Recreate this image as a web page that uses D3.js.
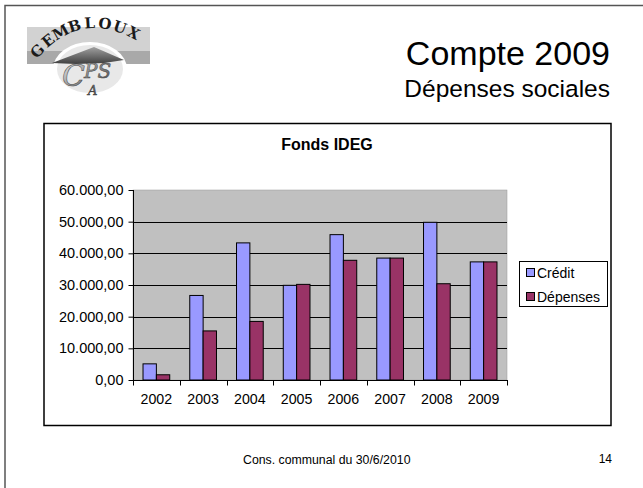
<!DOCTYPE html>
<html>
<head>
<meta charset="utf-8">
<script src="https://cdn.jsdelivr.net/npm/d3@7"></script>
<style>
  html, body { margin: 0; padding: 0; background: #fff; }
  svg { display: block; }
</style>
</head>
<body>
<svg id="slide" width="643" height="488"></svg>
<script>
// Fonds IDEG — crédit vs dépenses per year
const years = ["2002", "2003", "2004", "2005", "2006", "2007", "2008", "2009"];
const credit = [5100, 26700, 43300, 29900, 45900, 38500, 49800, 37300];
const depenses = [1650, 15500, 18500, 30200, 37800, 38500, 30400, 37300];
const yTicks = [0, 10000, 20000, 30000, 40000, 50000, 60000];
const seriesNames = ["Crédit", "Dépenses"];
const seriesColors = ["#9999FF", "#993366"];

const svg = d3.select("#slide");
const font = "Liberation Sans, Arial, sans-serif";

// slide frame (runs off the right and bottom edges)
svg.append("path")
  .attr("d", "M5,700 L5,5.5 L700,5.5")
  .attr("fill", "none").attr("stroke", "#555").attr("stroke-width", 1.5);

// ---- logo ----
const logo = svg.append("g");
const defs = svg.append("defs");
const g1 = defs.append("linearGradient").attr("id", "roofGrad")
  .attr("x1", 0).attr("y1", 0).attr("x2", 0).attr("y2", 1);
g1.append("stop").attr("offset", 0).attr("stop-color", "#a0a0a0");
g1.append("stop").attr("offset", 1).attr("stop-color", "#404040");
const g2 = defs.append("linearGradient").attr("id", "cpasGrad")
  .attr("x1", 0).attr("y1", 0).attr("x2", 1).attr("y2", 1);
g2.append("stop").attr("offset", 0).attr("stop-color", "#f4f4f4");
g2.append("stop").attr("offset", 0.5).attr("stop-color", "#888");
g2.append("stop").attr("offset", 1).attr("stop-color", "#2a2a2a");

logo.append("rect").attr("x", 27).attr("y", 27).attr("width", 123).attr("height", 24).attr("fill", "#d2d2d2");
logo.append("rect").attr("x", 27).attr("y", 51).attr("width", 123).attr("height", 13).attr("fill", "#a9a9a9");
logo.append("ellipse").attr("cx", 90).attr("cy", 69).attr("rx", 37).attr("ry", 27).attr("fill", "#fff");
logo.append("ellipse").attr("cx", 90).attr("cy", 69).attr("rx", 33).attr("ry", 24).attr("fill", "#e8e8e8");
logo.append("path")
  .attr("d", "M52,63 L94,47 L124,60 L104,63 L76,64 Z")
  .attr("fill", "url(#roofGrad)");

// arched "GEMBLOUX": one glyph per text, placed along a curve
const arc = defs.append("path").attr("d", "M33,64 Q80,4 142,44").node();
const arcLen = arc.getTotalLength();
const word = "GEMBLOUX".split("");
word.forEach((ch, i) => {
  const t = 0.1 + i * (0.8 / (word.length - 1));
  const p = arc.getPointAtLength(t * arcLen);
  const p2 = arc.getPointAtLength(Math.min(arcLen, t * arcLen + 1));
  const ang = Math.atan2(p2.y - p.y, p2.x - p.x) * 180 / Math.PI;
  logo.append("text")
    .attr("transform", `translate(${p.x},${p.y}) rotate(${ang})`)
    .attr("text-anchor", "middle")
    .attr("font-family", "DejaVu Serif, serif").attr("font-weight", "bold")
    .attr("font-size", 15).attr("fill", "#1a1a1a")
    .text(ch);
});

// stylised "CPAS" initials
const cpas = logo.append("text")
  .attr("font-family", "DejaVu Serif, serif").attr("font-style", "italic")
  .attr("fill", "url(#cpasGrad)").attr("stroke", "#444").attr("stroke-width", 0.5);
cpas.append("tspan").attr("x", 62).attr("y", 86).attr("font-size", 30).text("C");
cpas.append("tspan").attr("x", 84).attr("y", 78).attr("font-size", 20).text("PS");
cpas.append("tspan").attr("x", 88).attr("y", 95).attr("font-size", 13).text("A");

// ---- slide titles ----
svg.append("text").attr("x", 610).attr("y", 65).attr("text-anchor", "end")
  .attr("font-family", font).attr("font-size", 34).attr("fill", "#000")
  .text("Compte 2009");
svg.append("text").attr("x", 610).attr("y", 97).attr("text-anchor", "end")
  .attr("font-family", font).attr("font-size", 24.5).attr("fill", "#000")
  .text("Dépenses sociales");

// ---- chart frame ----
svg.append("rect").attr("x", 44).attr("y", 123.5).attr("width", 567).attr("height", 302)
  .attr("fill", "#fff").attr("stroke", "#000").attr("stroke-width", 1.5);

svg.append("text").attr("x", 327).attr("y", 150).attr("text-anchor", "middle")
  .attr("font-family", font).attr("font-size", 16).attr("font-weight", "bold")
  .text("Fonds IDEG");

// ---- scales ----
const plot = { left: 133, right: 507, top: 190, bottom: 380 };
const x0 = d3.scaleBand().domain(years).range([plot.left, plot.right]).padding(0);
const x1 = d3.scaleBand().domain([0, 1]).range([0, x0.bandwidth()])
  .paddingInner(0).paddingOuter(0.75);
const y = d3.scaleLinear().domain([0, 60000]).range([plot.bottom, plot.top]);

const fmt = d3.formatLocale({ decimal: ",", thousands: ".", grouping: [3], currency: ["", ""] })
  .format(",.2f");

// plot background
svg.append("rect")
  .attr("x", plot.left).attr("y", plot.top)
  .attr("width", plot.right - plot.left).attr("height", plot.bottom - plot.top)
  .attr("fill", "#C0C0C0").attr("stroke", "#999").attr("stroke-width", 0.5);

// gridlines
svg.append("g").selectAll("line")
  .data(yTicks.filter(t => t > 0 && t < 60000))
  .join("line")
  .attr("x1", plot.left).attr("x2", plot.right)
  .attr("y1", d => Math.round(y(d)) + 0.5).attr("y2", d => Math.round(y(d)) + 0.5)
  .attr("stroke", "#000").attr("stroke-width", 1);

// bars
const series = [credit, depenses];
const groups = svg.append("g").selectAll("g")
  .data(years)
  .join("g")
  .attr("transform", d => `translate(${x0(d)},0)`);
groups.selectAll("rect")
  .data((d, i) => series.map((s, k) => ({ k, v: s[i] })))
  .join("rect")
  .attr("x", d => x1(d.k))
  .attr("width", x1.bandwidth())
  .attr("y", d => y(d.v))
  .attr("height", d => y(0) - y(d.v))
  .attr("fill", d => seriesColors[d.k])
  .attr("stroke", "#000").attr("stroke-width", 1);

// y axis
const yAxis = d3.axisLeft(y).tickValues(yTicks).tickFormat(fmt).tickSize(5).tickPadding(5);
const gy = svg.append("g").attr("transform", `translate(${plot.left + 0.5},0)`).call(yAxis);
gy.selectAll("text").attr("font-family", font).attr("font-size", 14.5).attr("fill", "#000");
gy.selectAll("line").attr("stroke", "#000");
gy.select(".domain").attr("stroke", "#000").attr("d", `M0,${plot.top}V${plot.bottom}`);

// x axis: ticks at category boundaries, labels centred
const gx = svg.append("g").attr("transform", `translate(0,${plot.bottom + 0.5})`);
gx.append("line").attr("x1", plot.left).attr("x2", plot.right + 1)
  .attr("stroke", "#000");
const bounds = years.map(d => x0(d)).concat([plot.right]);
gx.selectAll(".tk").data(bounds).join("line").attr("class", "tk")
  .attr("x1", d => Math.round(d) + 0.5).attr("x2", d => Math.round(d) + 0.5)
  .attr("y1", 0).attr("y2", 5).attr("stroke", "#000");
gx.selectAll("text").data(years).join("text")
  .attr("x", d => x0(d) + x0.bandwidth() / 2)
  .attr("y", 23)
  .attr("text-anchor", "middle")
  .attr("font-family", font).attr("font-size", 14.2).attr("fill", "#000")
  .text(d => d);

// legend
const lg = svg.append("g");
lg.append("rect").attr("x", 519.5).attr("y", 261.5).attr("width", 88).attr("height", 45)
  .attr("fill", "#fff").attr("stroke", "#000").attr("stroke-width", 1);
const items = lg.selectAll("g").data(seriesNames).join("g")
  .attr("transform", (d, i) => `translate(0,${273 + i * 24})`);
items.append("rect").attr("x", 526.5).attr("y", -4.5).attr("width", 8).attr("height", 8)
  .attr("fill", (d, i) => seriesColors[i]).attr("stroke", "#000").attr("stroke-width", 1);
items.append("text").attr("x", 537).attr("y", 5)
  .attr("font-family", font).attr("font-size", 14).attr("fill", "#000")
  .text(d => d);

// footer
svg.append("text").attr("x", 243).attr("y", 464)
  .attr("font-family", font).attr("font-size", 12.3).attr("fill", "#000")
  .text("Cons. communal du 30/6/2010");
svg.append("text").attr("x", 612).attr("y", 463).attr("text-anchor", "end")
  .attr("font-family", font).attr("font-size", 12).attr("fill", "#000")
  .text("14");
</script>
</body>
</html>
